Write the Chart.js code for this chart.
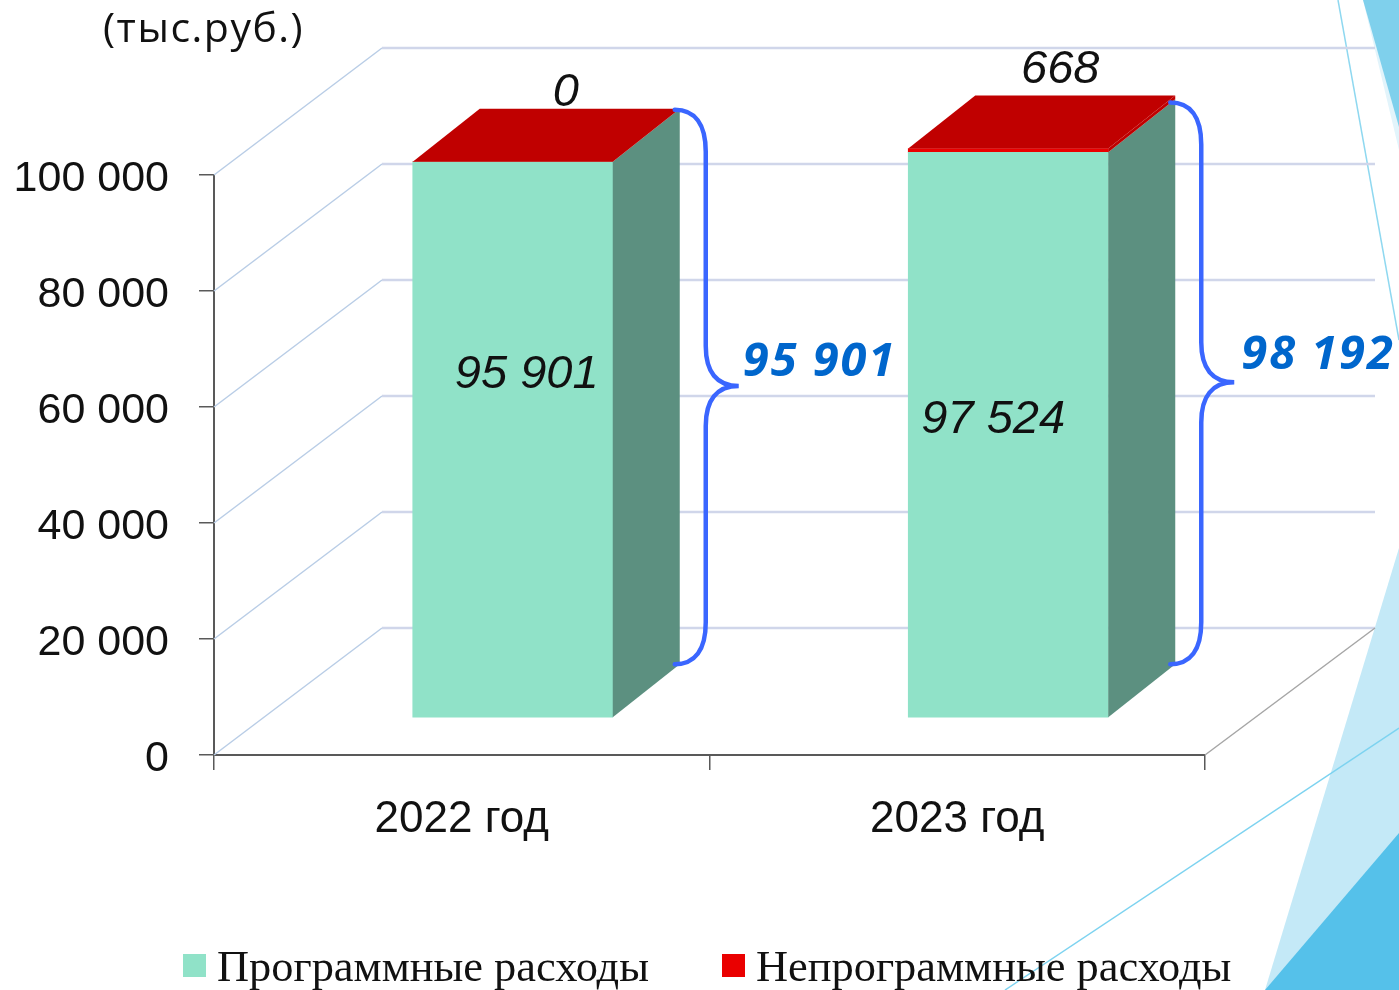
<!DOCTYPE html>
<html>
<head>
<meta charset="utf-8">
<title>Расходы</title>
<script src="https://cdn.jsdelivr.net/npm/chart.js@4"></script>
<style>
    html, body { margin: 0; padding: 0; background: #fff; overflow: hidden; }
    canvas { display: block; }
</style>
</head>
<body>
<canvas id="chart" width="1399" height="990"></canvas>
<script>
// Chart values
var categories = ['2022 год', '2023 год'];
var programExpenses = [95901, 97524];
var otherExpenses = [0, 668];
var totals = [95901, 98192];
var yTicks = [0, 20000, 40000, 60000, 80000, 100000];
var seriesNames = ['Программные расходы', 'Непрограммные расходы'];
var unitLabel = '(тыс.руб.)';

// The 3D look: shift of the bars from the front plane, depth of a bar, shift of the back wall
var barShift = { x: 51, y: -37 };
var barDepth = { x: 67, y: -53 };
var wallShift = { x: 168, y: -127 };
var wallRight = 1375;

// Nudges of the value labels, counted from the bar
var insideNudge = [{ x: 14, y: -65 }, { x: -15, y: -15 }];
var topNudge = [{ x: 53, y: -69 }, { x: 52, y: -79 }];
var totalNudge = [{ x: 1, y: -23 }, { x: 4, y: -27 }];
var braceTopNudge = [0, 6];

function spaced(value) {
    return String(value).replace(/\B(?=(\d{3})+$)/g, ' ');
}

function polygon(ctx, points, color) {
    ctx.fillStyle = color;
    ctx.beginPath();
    points.forEach(function (p, i) {
        if (i === 0) ctx.moveTo(p[0], p[1]); else ctx.lineTo(p[0], p[1]);
    });
    ctx.closePath();
    ctx.fill();
}

function segment(ctx, x1, y1, x2, y2, color, width) {
    ctx.strokeStyle = color;
    ctx.lineWidth = width;
    ctx.beginPath();
    ctx.moveTo(x1, y1);
    ctx.lineTo(x2, y2);
    ctx.stroke();
}

// Slide decoration in the right corner
var slideDecor = {
    id: 'slideDecor',
    beforeDraw: function (chart) {
        var ctx = chart.ctx;
        ctx.save();
        polygon(ctx, [[1363, 0], [1399, 0], [1399, 150]], '#e2f4fb');
        polygon(ctx, [[1363, 0], [1399, 0], [1399, 127]], '#7fd0ec');
        polygon(ctx, [[1399, 548], [1265, 990], [1399, 990]], '#c4e9f7');
        polygon(ctx, [[1399, 833], [1265, 990], [1399, 990]], '#55c1ea');
        segment(ctx, 1338, 0, 1399, 340, '#8fd8f0', 1.5);
        segment(ctx, 1005, 990, 1399, 728, '#7dd3f0', 1.5);
        ctx.restore();
    }
};

// Back wall and floor, then the shift of the bars
var wallAndShift = {
    id: 'wallAndShift',
    beforeDatasetsDraw: function (chart) {
        var ctx = chart.ctx;
        var x = chart.scales.x;
        var y = chart.scales.y;
        ctx.save();
        yTicks.forEach(function (tick) {
            var py = y.getPixelForValue(tick);
            var wx = x.left + wallShift.x;
            var wy = py + wallShift.y;
            segment(ctx, x.left, py, wx, wy, '#b9cde6', 1.5);
            segment(ctx, wx, wy, wallRight, wy, '#d0d6ea', 2.5);
        });
        segment(ctx, x.right, y.bottom, wallRight, y.bottom + wallShift.y, '#a6a6a6', 1.5);
        ctx.restore();
        ctx.save();
        ctx.translate(barShift.x, barShift.y);
    },
    afterDatasetsDraw: function (chart) {
        var ctx = chart.ctx;
        chart.data.datasets.forEach(function (dataset, d) {
            chart.getDatasetMeta(d).data.forEach(function (bar) {
                var right = bar.x + bar.width / 2;
                polygon(ctx, [
                    [right, bar.y],
                    [right + barDepth.x, bar.y + barDepth.y],
                    [right + barDepth.x, bar.base + barDepth.y],
                    [right, bar.base]
                ], dataset.sideColor);
            });
        });
        // top of each column
        var last = chart.data.datasets.length - 1;
        chart.getDatasetMeta(last).data.forEach(function (bar) {
            var left = bar.x - bar.width / 2;
            var right = bar.x + bar.width / 2;
            polygon(ctx, [
                [left, bar.y],
                [right, bar.y],
                [right + barDepth.x, bar.y + barDepth.y],
                [left + barDepth.x, bar.y + barDepth.y]
            ], chart.data.datasets[last].topColor);
        });
        ctx.restore();
    }
};

// Value labels and the curly braces with the totals
var labelsAndBraces = {
    id: 'labelsAndBraces',
    afterDraw: function (chart) {
        var ctx = chart.ctx;
        var low = chart.getDatasetMeta(0).data;
        var high = chart.getDatasetMeta(1).data;
        ctx.save();
        ctx.textAlign = 'center';
        ctx.textBaseline = 'middle';
        ctx.fillStyle = '#111';
        ctx.font = 'italic 47px "Liberation Sans"';
        categories.forEach(function (c, i) {
            var midY = (low[i].y + low[i].base) / 2 + barShift.y;
            ctx.fillText(spaced(programExpenses[i]), low[i].x + barShift.x + insideNudge[i].x, midY + insideNudge[i].y);
            ctx.fillText(spaced(otherExpenses[i]), high[i].x + barShift.x + topNudge[i].x, high[i].y + barShift.y + topNudge[i].y);
        });

        categories.forEach(function (c, i) {
            var x0 = low[i].x + barShift.x + low[i].width / 2 + barDepth.x - 5;
            var top = high[i].y + barShift.y + barDepth.y + 1 + braceTopNudge[i];
            var bottom = low[i].base + barShift.y + barDepth.y;
            var mid = (top + bottom) / 2 - 1;
            ctx.strokeStyle = '#3a66ff';
            ctx.lineWidth = 4.5;
            ctx.lineCap = 'round';
            ctx.beginPath();
            ctx.moveTo(x0, top);
            ctx.bezierCurveTo(x0 + 20, top, x0 + 31, top + 14, x0 + 31, top + 42);
            ctx.lineTo(x0 + 31, mid - 40);
            ctx.bezierCurveTo(x0 + 31, mid - 14, x0 + 42, mid, x0 + 64, mid);
            ctx.bezierCurveTo(x0 + 42, mid, x0 + 31, mid + 14, x0 + 31, mid + 40);
            ctx.lineTo(x0 + 31, bottom - 42);
            ctx.bezierCurveTo(x0 + 31, bottom - 14, x0 + 20, bottom, x0, bottom);
            ctx.stroke();

            ctx.fillStyle = '#0066cc';
            ctx.font = 'italic bold 47px "Open Sans"';
            ctx.letterSpacing = '2px';
            ctx.textAlign = 'left';
            ctx.fillText(spaced(totals[i]), x0 + 67 + totalNudge[i].x, mid + totalNudge[i].y);
            ctx.letterSpacing = '0px';
            ctx.textAlign = 'center';
        });

        // unit caption
        ctx.fillStyle = '#111';
        ctx.textAlign = 'left';
        ctx.font = '41px "Open Sans"';
        ctx.letterSpacing = '1.5px';
        ctx.fillText(unitLabel, 103, 30);
        ctx.letterSpacing = '0px';

        // legend under the chart
        var legendX = [183, 722];
        ctx.font = '44.4px "Liberation Serif"';
        chart.data.datasets.forEach(function (dataset, d) {
            ctx.fillStyle = dataset.backgroundColor;
            ctx.fillRect(legendX[d], 954, 23, 23);
            ctx.fillStyle = '#111';
            ctx.fillText(dataset.label, legendX[d] + 34, 969);
        });
        ctx.restore();
    }
};

new Chart(document.getElementById('chart').getContext('2d'), {
    type: 'bar',
    data: {
        labels: categories,
        datasets: [
            {
                label: seriesNames[0],
                data: programExpenses,
                backgroundColor: '#90e2c8',
                sideColor: '#5c9080',
                borderWidth: 0
            },
            {
                label: seriesNames[1],
                data: otherExpenses,
                backgroundColor: '#ea0000',
                sideColor: '#c00000',
                topColor: '#c00000',
                borderWidth: 0
            }
        ]
    },
    options: {
        responsive: false,
        animation: false,
        layout: { padding: { left: 0, top: 175, right: 194, bottom: 135 } },
        datasets: { bar: { barThickness: 200, clip: false } },
        plugins: {
            legend: { display: false },
            tooltip: { enabled: false }
        },
        scales: {
            x: {
                stacked: true,
                afterFit: function (scale) { scale.height = 100; },
                border: { color: '#595959', width: 2 },
                grid: { color: '#595959', lineWidth: 1.5, drawOnChartArea: false, tickLength: 15 },
                ticks: {
                    color: '#111',
                    padding: 23,
                    font: { family: '"Liberation Sans"', size: 44 }
                }
            },
            y: {
                stacked: true,
                min: 0,
                max: 100000,
                afterFit: function (scale) { scale.width = 214; },
                afterBuildTicks: function (scale) {
                    scale.ticks = yTicks.map(function (v) { return { value: v }; });
                },
                border: { color: '#595959', width: 2 },
                grid: { color: '#595959', lineWidth: 1.5, drawOnChartArea: false, tickLength: 15 },
                ticks: {
                    color: '#111',
                    padding: 30,
                    labelOffset: 4,
                    font: { family: '"Liberation Sans"', size: 43 },
                    callback: function (value) { return spaced(value); }
                }
            }
        }
    },
    plugins: [slideDecor, wallAndShift, labelsAndBraces]
});
</script>
</body>
</html>
